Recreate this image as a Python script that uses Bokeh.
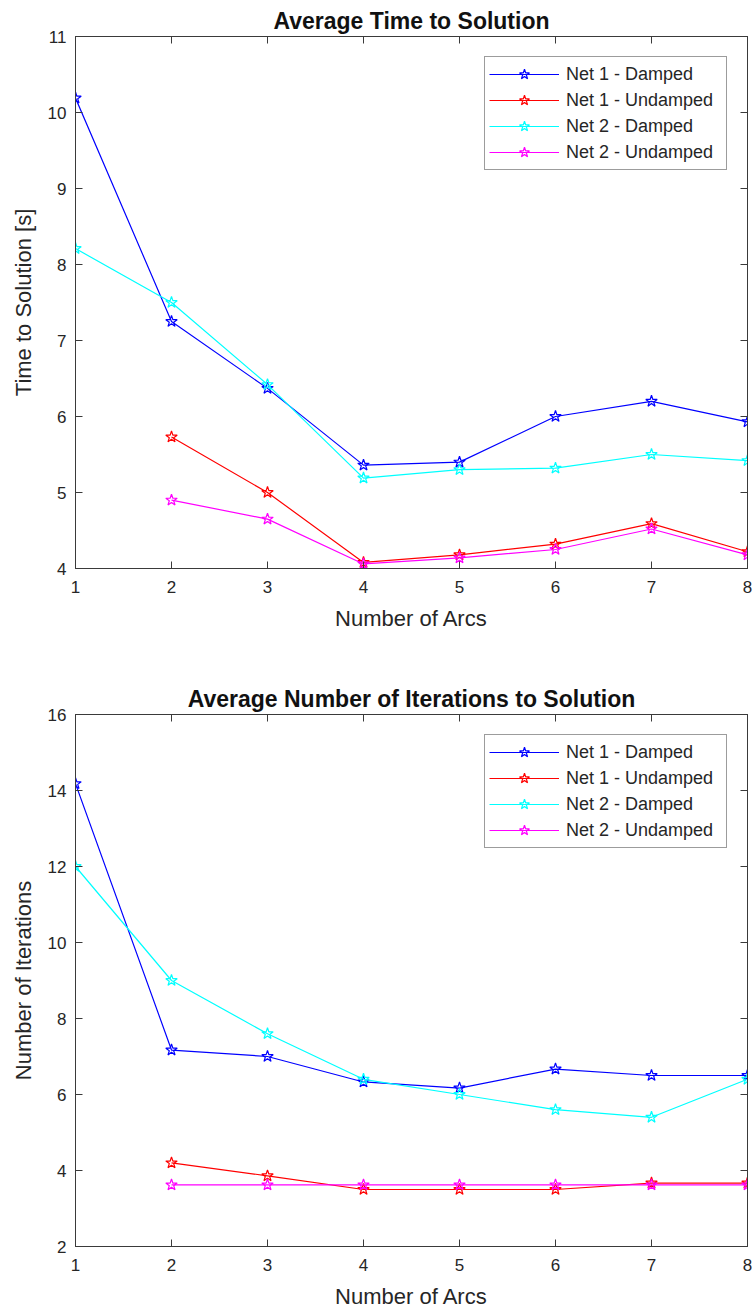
from bokeh.plotting import figure
from bokeh.models import (Range1d, FixedTicker, LinearAxis, Legend, LegendItem, Title)
from bokeh.layouts import column
from bokeh.embed import file_html
from bokeh.resources import INLINE

# ---- data ----
arcs = [1, 2, 3, 4, 5, 6, 7, 8]
arcs_undamped = [2, 3, 4, 5, 6, 7, 8]

time_net1_damped = [10.19, 7.25, 6.37, 5.36, 5.40, 6.00, 6.20, 5.93]
time_net1_undamped = [5.73, 5.00, 4.08, 4.18, 4.32, 4.59, 4.22]
time_net2_damped = [8.21, 7.50, 6.42, 5.19, 5.30, 5.32, 5.50, 5.42]
time_net2_undamped = [4.90, 4.65, 4.06, 4.14, 4.25, 4.52, 4.18]

iter_net1_damped = [14.18, 7.17, 7.00, 6.33, 6.17, 6.67, 6.50, 6.50]
iter_net1_undamped = [4.20, 3.86, 3.50, 3.50, 3.50, 3.67, 3.67]
iter_net2_damped = [12.00, 9.00, 7.60, 6.40, 6.00, 5.60, 5.40, 6.40]
iter_net2_undamped = [3.62, 3.62, 3.62, 3.62, 3.62, 3.62, 3.62]

series_labels = ["Net 1 - Damped", "Net 1 - Undamped", "Net 2 - Damped", "Net 2 - Undamped"]
series_colors = ["#0000FF", "#FF0000", "#00FFFF", "#FF00FF"]

x_ticks = [1, 2, 3, 4, 5, 6, 7, 8]
y_ticks_time = [4, 5, 6, 7, 8, 9, 10, 11]
y_ticks_iter = [2, 4, 6, 8, 10, 12, 14, 16]

FONT = "Liberation Sans"
AX_COLOR = "#3a3a3a"
TXT_COLOR = "#262626"


def style_axis(ax, show_labels=True):
    ax.major_tick_in = 7
    ax.major_tick_out = 0
    ax.minor_tick_line_color = None
    ax.axis_line_color = AX_COLOR
    ax.major_tick_line_color = AX_COLOR
    ax.major_label_text_font = FONT
    if show_labels:
        ax.major_label_text_font_size = "17px"
        ax.major_label_text_color = TXT_COLOR
    else:
        ax.major_label_text_font_size = "1px"
        ax.major_label_text_color = None
        ax.major_label_standoff = 0


def make_plot(title, ylabel, ydata, yticks, yr, height, top_border, bottom_border):
    p = figure(width=753, height=height, output_backend="svg", toolbar_location=None,
               x_range=Range1d(1, 8), y_range=Range1d(*yr),
               min_border_left=75, min_border_right=6,
               min_border_top=top_border, min_border_bottom=bottom_border)
    p.title = Title(text=title, align="center", text_font=FONT, text_font_size="23px",
                    text_font_style="bold", text_color="#111111", standoff=6)
    p.grid.visible = False
    p.outline_line_color = AX_COLOR
    p.outline_line_width = 1
    p.background_fill_color = "white"
    p.border_fill_color = "white"

    xa = p.xaxis[0]
    ya = p.yaxis[0]
    xa.ticker = FixedTicker(ticks=x_ticks)
    ya.ticker = FixedTicker(ticks=yticks)
    style_axis(xa)
    style_axis(ya)
    xa.major_label_standoff = 12
    ya.major_label_standoff = 9
    xa.axis_label = "Number of Arcs"
    ya.axis_label = ylabel
    for ax in (xa, ya):
        ax.axis_label_text_font = FONT
        ax.axis_label_text_font_size = "22px"
        ax.axis_label_text_font_style = "normal"
        ax.axis_label_text_color = TXT_COLOR
    xa.axis_label_standoff = 10
    ya.axis_label_standoff = 9

    top_ax = LinearAxis(ticker=FixedTicker(ticks=x_ticks))
    right_ax = LinearAxis(ticker=FixedTicker(ticks=yticks))
    style_axis(top_ax, show_labels=False)
    style_axis(right_ax, show_labels=False)
    p.add_layout(top_ax, "above")
    p.add_layout(right_ax, "right")

    items = []
    xs_list = [arcs, arcs_undamped, arcs, arcs_undamped]
    for xs, ys, lab, col in zip(xs_list, ydata, series_labels, series_colors):
        lr = p.line(xs, ys, line_color=col, line_width=1.2)
        sr = p.scatter(xs, ys, marker="star", size=12, fill_color=None,
                       line_color=col, line_width=1.2)
        items.append(LegendItem(label=lab, renderers=[lr, sr]))

    leg = Legend(items=items, location="top_right", margin=20, padding=4, spacing=0,
                 glyph_width=70, glyph_height=26, label_height=26, label_width=156,
                 label_standoff=7,
                 label_text_font=FONT, label_text_font_size="18px", label_text_color=TXT_COLOR,
                 border_line_color=AX_COLOR, border_line_width=1, background_fill_alpha=1.0)
    p.add_layout(leg, "center")
    return p


p1 = make_plot("Average Time to Solution", "Time to Solution [s]",
               [time_net1_damped, time_net1_undamped, time_net2_damped, time_net2_undamped],
               y_ticks_time, (4, 11), 650, 36, 82)
p2 = make_plot("Average Number of Iterations to Solution", "Number of Iterations",
               [iter_net1_damped, iter_net1_undamped, iter_net2_damped, iter_net2_undamped],
               y_ticks_iter, (2, 16), 665, 64, 69)

layout = column(p1, p2, spacing=0)
open("out.html", "w").write(file_html(layout, INLINE))
